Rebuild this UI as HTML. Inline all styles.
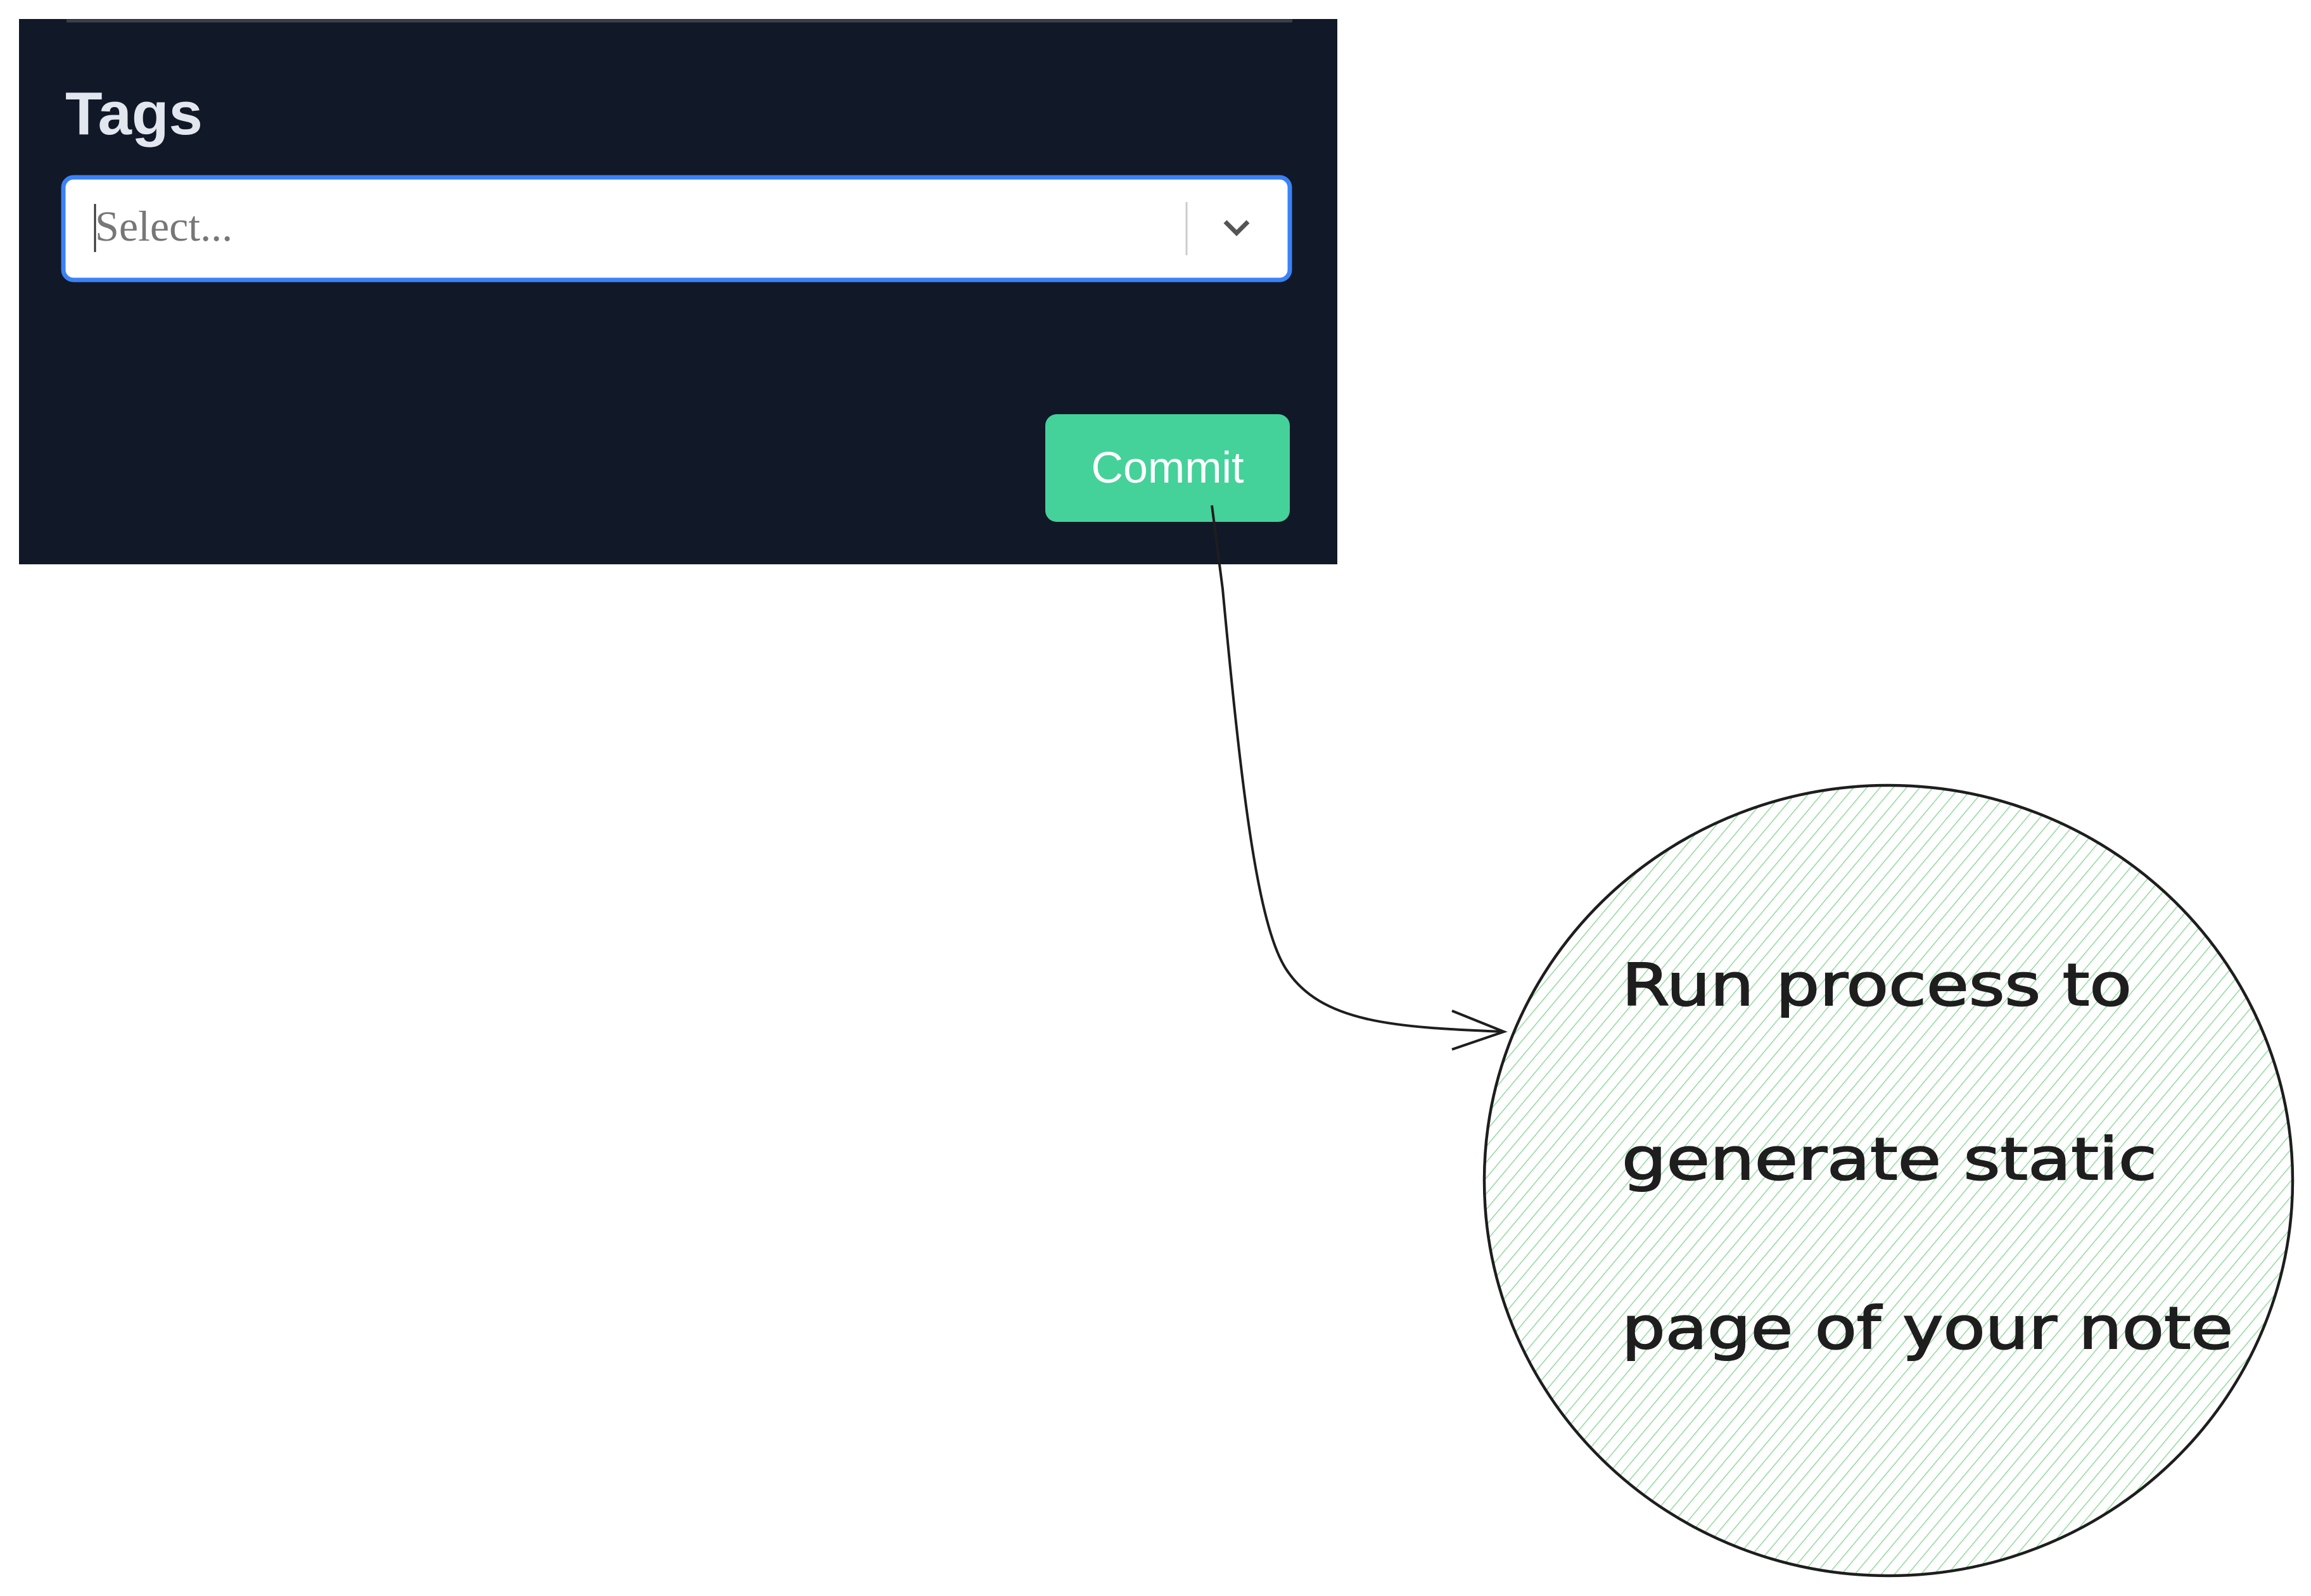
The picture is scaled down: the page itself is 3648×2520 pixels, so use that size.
<!DOCTYPE html>
<html><head><meta charset="utf-8"><style>
html,body{margin:0;padding:0;background:#fff;}
svg{display:block;}
</style></head><body>
<svg width="3648" height="2520" viewBox="0 0 3648 2520" xmlns="http://www.w3.org/2000/svg">
<defs>
<pattern id="h" patternUnits="userSpaceOnUse" width="16" height="16" patternTransform="rotate(40)">
<line x1="0" y1="0" x2="0" y2="16" stroke="#8fdc9c" stroke-width="3"/>
</pattern>
<clipPath id="c"><ellipse cx="2981" cy="1864" rx="638" ry="624"/></clipPath>
</defs>
<rect x="30" y="30" width="2081" height="861" fill="#111827"/>
<line x1="105" y1="33" x2="2040" y2="33" stroke="#3a404b" stroke-width="5"/>
<text x="103" y="212" font-family="Liberation Sans, sans-serif" font-weight="bold" font-size="96" fill="#e2e6ee">Tags</text>
<rect x="100" y="280" width="1936" height="162" rx="16" fill="#fff" stroke="#3b82f6" stroke-width="7"/>
<line x1="150" y1="322" x2="150" y2="398" stroke="#333" stroke-width="3"/>
<text x="150" y="380" font-family="Liberation Serif, serif" font-size="68" fill="#777">Select...</text>
<line x1="1873" y1="319" x2="1873" y2="403" stroke="#ccc" stroke-width="3"/>
<polyline points="1934,350 1952,368 1970,350" fill="none" stroke="#555" stroke-width="7"/>
<rect x="1650" y="654" width="386" height="170" rx="18" fill="#45d19a"/>
<text x="1843" y="762" text-anchor="middle" font-family="Liberation Sans, sans-serif" font-size="70" fill="#fff">Commit</text>
<path d="M1913 798 L1930 930 C1960 1250 1985 1460 2030 1530 C2085 1615 2200 1622 2374 1629" fill="none" stroke="#1e1e1e" stroke-width="4"/>
<polyline points="2292,1596 2374,1629 2292,1657" fill="none" stroke="#1e1e1e" stroke-width="4"/>
<rect x="2340" y="1240" width="1300" height="1260" fill="url(#h)" clip-path="url(#c)"/>
<ellipse cx="2981" cy="1864" rx="638" ry="624" fill="none" stroke="#1e1e1e" stroke-width="4.5"/>
<g font-family="DejaVu Sans, sans-serif" font-size="92" fill="#1e1e1e" stroke="#1e1e1e" stroke-width="2">
<text x="2560" y="1587" textLength="805" lengthAdjust="spacingAndGlyphs">Run process to</text>
<text x="2560" y="1862" textLength="845" lengthAdjust="spacingAndGlyphs">generate static</text>
<text x="2560" y="2129" textLength="965" lengthAdjust="spacingAndGlyphs">page of your note</text>
</g>
</svg>
</body></html>
